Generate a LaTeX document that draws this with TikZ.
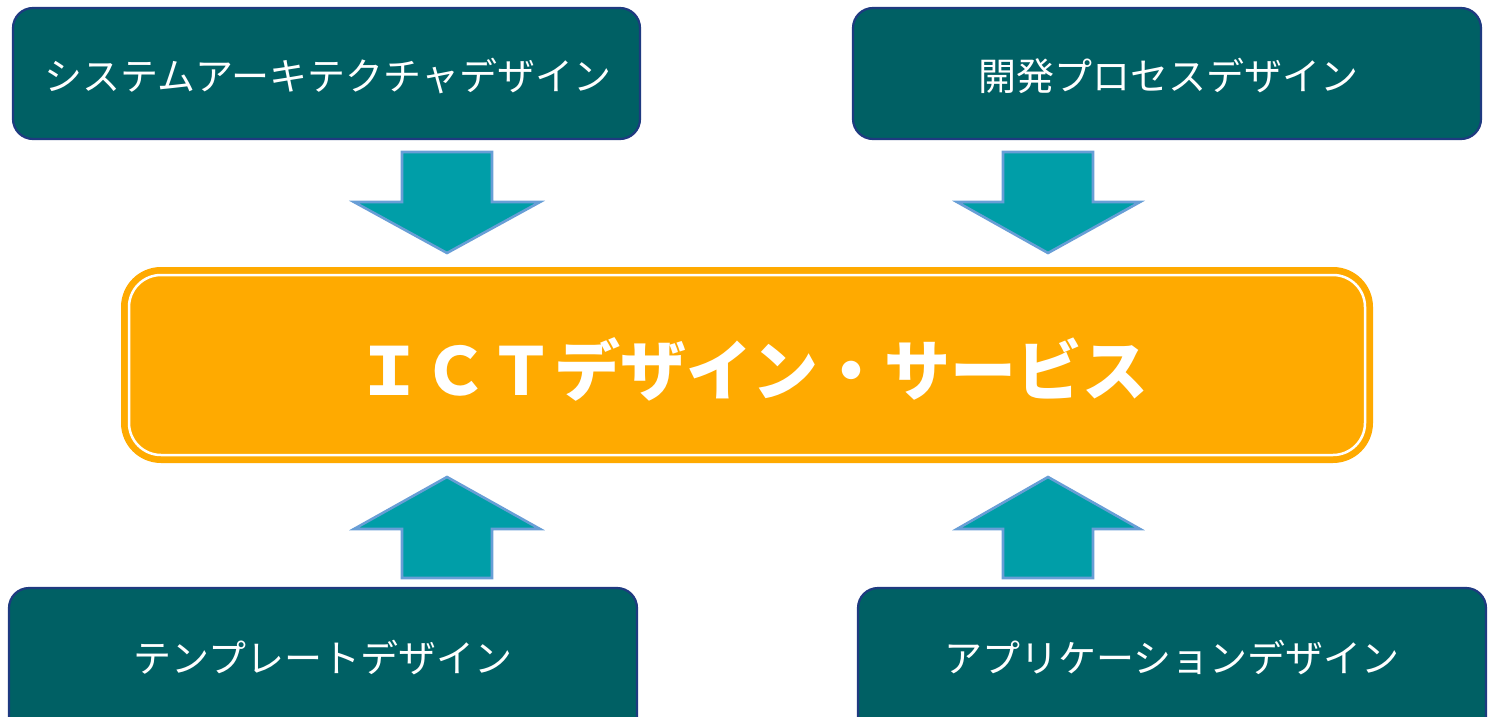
\documentclass[tikz,border=0pt]{standalone}
\usepackage{fontspec}
\newfontfamily\cjk{Noto Sans CJK JP}
\definecolor{boxfill}{RGB}{0,96,100}
\definecolor{boxline}{RGB}{30,58,128}
\definecolor{arrfill}{RGB}{0,158,168}
\definecolor{arrline}{RGB}{104,158,214}
\definecolor{orange}{RGB}{255,170,0}
\tikzset{
  designbox/.style={rounded corners=20pt, fill=boxfill, draw=boxline, line width=2.2pt},
  boxtext/.style={text=white, font=\cjk\fontsize{38}{42}\selectfont, inner sep=0pt},
  blockarrow/.style={fill=arrfill, draw=arrline, line width=2.6pt, line join=miter},
}
\begin{document}
\begin{tikzpicture}[x=1pt,y=-1pt]
\useasboundingbox (0,0) rectangle (1492,717);
\clip (0,0) rectangle (1492,717);
% boxes
\draw[designbox] (13,8) rectangle (640,139);
\draw[designbox] (853,8) rectangle (1481,139);
\draw[designbox] (9,588) rectangle (637,740);
\draw[designbox] (858,588) rectangle (1486,740);
\node[boxtext] (sa) at (328,76) {システムアーキテクチャデザイン};
\node[boxtext] (dp) at (1168,76) {開発プロセスデザイン};
\node[boxtext] (td) at (323,658) {テンプレートデザイン};
\node[boxtext] (ad) at (1172,658) {アプリケーションデザイン};
% center box
\fill[orange, rounded corners=40pt] (121,267) rectangle (1373,463);
\draw[white, line width=2.5pt, rounded corners=32pt] (129,275) rectangle (1365,455);
\node[text=white, font=\cjk\bfseries\fontsize{66}{72}\selectfont, inner sep=0pt] (ict) at (752,369) {ＩＣＴデザイン・サービス};
% arrows
\draw[blockarrow] (402,152) -- (492,152) -- (492,202) -- (540,202) -- (447,253) -- (354,202) -- (402,202) -- cycle;
\draw[blockarrow] (1003,152) -- (1093,152) -- (1093,202) -- (1140,202) -- (1048,253) -- (957,202) -- (1003,202) -- cycle;
\draw[blockarrow] (402,578) -- (492,578) -- (492,529) -- (540,529) -- (447,477) -- (354,529) -- (402,529) -- cycle;
\draw[blockarrow] (1003,578) -- (1093,578) -- (1093,529) -- (1140,529) -- (1048,477) -- (957,529) -- (1003,529) -- cycle;
\end{tikzpicture}
\end{document}
